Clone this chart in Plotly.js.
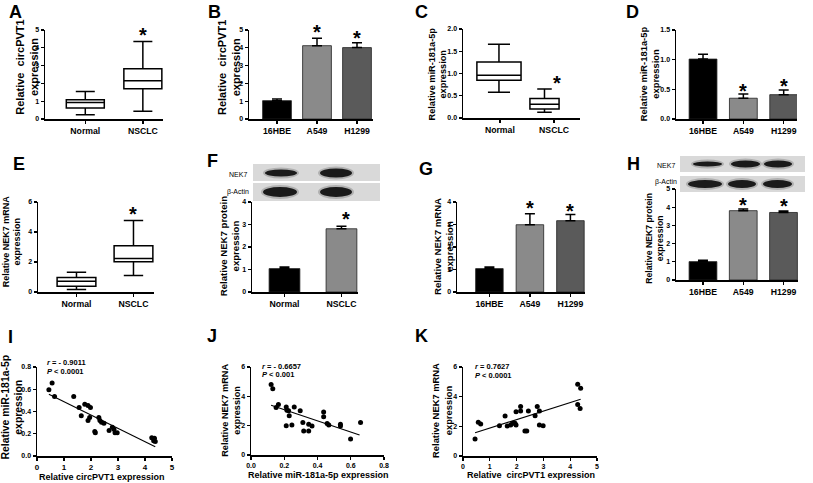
<!DOCTYPE html>
<html><head><meta charset="utf-8">
<script src="https://cdn.plot.ly/plotly-3.0.1.min.js"></script>
<style>html,body{margin:0;padding:0;background:#fff}</style>
</head><body><div id="chart" style="width:813px;height:483px"></div>
<script>
// ---------------- DATA ----------------
const tissueCats = ['Normal', 'NSCLC'];
const cellLines = ['16HBE', 'A549', 'H1299'];

// A: circPVT1 in tissues (box stats)
const aQ1 = [0.62, 1.70], aMed = [0.93, 2.15], aQ3 = [1.08, 2.82], aLo = [0.24, 0.43], aHi = [1.55, 4.35];
// B: circPVT1 in cell lines
const bMean = [1.03, 4.12, 4.01], bErr = [0.09, 0.41, 0.28];
// C: miR-181a-5p in tissues
const cQ1 = [0.85, 0.20], cMed = [0.96, 0.31], cQ3 = [1.26, 0.44], cLo = [0.58, 0.13], cHi = [1.66, 0.65];
// D: miR-181a-5p in cell lines
const dMean = [1.01, 0.35, 0.41], dErr = [0.08, 0.07, 0.08];
// E: NEK7 mRNA in tissues
const eQ1 = [0.38, 2.01], eMed = [0.72, 2.24], eQ3 = [0.96, 3.09], eLo = [0.16, 1.10], eHi = [1.32, 4.77];
// F: NEK7 protein in tissues
const fMean = [1.04, 2.81], fErr = [0.07, 0.11];
// G: NEK7 mRNA in cell lines
const gMean = [1.04, 2.99, 3.17], gErr = [0.07, 0.49, 0.27];
// H: NEK7 protein in cell lines
const hMean = [1.01, 3.81, 3.71], hErr = [0.07, 0.09, 0.08];

// I: circPVT1 vs miR-181a-5p
const iX = [0.44,0.56,0.65,1.36,1.56,1.64,1.77,1.89,1.98,1.89,1.95,2.14,2.16,2.29,2.33,2.39,2.48,2.67,2.79,2.85,2.89,2.97,4.25,4.32,4.35,4.38];
const iY = [0.595,0.656,0.535,0.535,0.436,0.361,0.466,0.454,0.436,0.319,0.346,0.22,0.21,0.346,0.319,0.304,0.295,0.229,0.259,0.24,0.21,0.21,0.165,0.138,0.159,0.13];
const iFitX = [0.44, 4.38], iFitY = [0.556, 0.084];
const iStats = ['<i>r</i> = - 0.9011', '<i>P</i> &lt; 0.0001'];
// J: miR-181a-5p vs NEK7 mRNA
const jX = [0.121,0.131,0.151,0.165,0.212,0.216,0.226,0.23,0.212,0.246,0.26,0.296,0.312,0.317,0.347,0.347,0.367,0.437,0.437,0.458,0.468,0.538,0.538,0.599,0.659];
const jY = [4.80,4.52,3.24,3.44,3.28,3.05,3.01,2.67,1.99,2.04,3.28,3.01,2.22,1.63,2.10,1.63,1.97,2.94,2.60,2.15,2.04,2.10,1.97,1.09,2.22];
const jFitX = [0.121, 0.653], jFitY = [3.39, 1.36];
const jStats = ['<i>r</i> = - 0.6657', '<i>P</i> &lt; 0.001'];
// K: circPVT1 vs NEK7 mRNA
const kX = [0.45,0.57,0.66,1.36,1.57,1.65,1.78,1.85,1.94,1.98,1.98,2.15,2.15,2.31,2.38,2.44,2.69,2.77,2.85,2.85,2.99,4.28,4.39,4.28,4.37];
const kY = [1.15,2.27,2.16,2.04,2.70,2.02,2.09,2.20,2.20,2.09,2.99,3.03,3.33,1.69,1.69,3.03,2.72,3.33,3.03,2.09,2.04,4.83,4.56,3.48,3.21];
const kFitX = [0.45, 4.39], kFitY = [1.57, 3.82];
const kStats = ['<i>r</i> = 0.7627', '<i>P</i> &lt; 0.0001'];

const barColors3 = ['#000000', '#8a8a8a', '#5a5a5a'];
const barColors2 = ['#000000', '#8a8a8a'];

// ---------------- LAYOUT HELPERS ----------------
const W = 813, H = 483;
const px = x => x / W, py = y => 1 - y / H;
const FONT = 'Liberation Sans, Arial, sans-serif';
const data = [];
const layout = {
  width: W, height: H, margin: {l: 0, r: 0, t: 0, b: 0},
  paper_bgcolor: '#fff', plot_bgcolor: '#fff', showlegend: false,
  font: {family: FONT, color: '#000'}, annotations: [], shapes: []
};

function axName(i, a) { return a + 'axis' + (i === 1 ? '' : i); }
function ref(i, a) { return a + (i === 1 ? '' : i); }

function addAxes(i, xd, yd, xr, yr, ydt, yfmt, xopts) {
  const common = {showline: true, linecolor: '#000', linewidth: 1.5, ticks: 'outside', ticklen: 3,
    tickwidth: 1.3, tickcolor: '#000', showgrid: false, zeroline: false, fixedrange: true};
  layout[axName(i, 'x')] = Object.assign({}, common, {
    domain: [px(xd[0]), px(xd[1])], range: xr, anchor: ref(i, 'y'),
    tickfont: {family: FONT, size: 8.7, weight: 'bold', color: '#000'}
  }, xopts);
  layout[axName(i, 'y')] = Object.assign({}, common, {
    domain: [py(yd[1]), py(yd[0])], range: yr, anchor: ref(i, 'x'), dtick: ydt, tick0: 0,
    tickformat: yfmt, tickfont: {family: FONT, size: 7, weight: 'bold', color: '#000'}
  });
}

function addBoxes(i, q1, med, q3, lo, hi, widths) {
  for (let k = 0; k < q1.length; k++) {
    data.push({type: 'box', xaxis: ref(i, 'x'), yaxis: ref(i, 'y'), x: [k],
      q1: [q1[k]], median: [med[k]], q3: [q3[k]], lowerfence: [lo[k]], upperfence: [hi[k]],
      width: widths[k], whiskerwidth: 0.5, fillcolor: '#fff', line: {color: '#000', width: 1.5},
      boxpoints: false, hoverinfo: 'skip'});
  }
}

function addBars(i, mean, err, colors, w) {
  data.push({type: 'bar', xaxis: ref(i, 'x'), yaxis: ref(i, 'y'), x: mean.map((_, k) => k), y: mean,
    width: w, marker: {color: colors, line: {color: '#222', width: 0.8}},
    error_y: {type: 'data', symmetric: false, array: err, arrayminus: err.map(() => 0),
      color: '#000', thickness: 1.5, width: 5},
    hoverinfo: 'skip'});
}

function addScatter(i, x, y, fx, fy) {
  data.push({type: 'scatter', mode: 'markers', xaxis: ref(i, 'x'), yaxis: ref(i, 'y'), x: x, y: y,
    marker: {size: 5, color: '#000'}, hoverinfo: 'skip', cliponaxis: false});
  data.push({type: 'scatter', mode: 'lines', xaxis: ref(i, 'x'), yaxis: ref(i, 'y'), x: fx, y: fy,
    line: {color: '#000', width: 1.1}, hoverinfo: 'skip'});
}

function star(i, x, y, shift) {
  layout.annotations.push({xref: ref(i, 'x'), yref: ref(i, 'y'), x: x, y: y, text: '*', showarrow: false,
    xanchor: 'center', yanchor: 'middle', yshift: shift,
    font: {family: FONT, size: 20, weight: 'bold', color: '#000'}});
}

function ptext(text, x, y, size, opts) {
  layout.annotations.push(Object.assign({xref: 'paper', yref: 'paper', x: px(x), y: py(y), text: text,
    showarrow: false, xanchor: 'center', yanchor: 'middle',
    font: {family: FONT, size: size, weight: 'bold', color: '#000'}}, opts || {}));
}

function ytitle(l1, l2, x1, x2, yc, size) {
  ptext(l1 + '<br>' + l2, (x1 + x2) / 2, yc, size, {textangle: -90, align: 'center'});
}

function rect(x0, x1, y0, y1, fill) {
  layout.shapes.push({type: 'rect', xref: 'paper', yref: 'paper', x0: px(x0), x1: px(x1), y0: py(y1), y1: py(y0),
    fillcolor: fill, line: {width: 0}, layer: 'above'});
}
function band(x0, x1, yc, h) {
  layout.shapes.push({type: 'circle', xref: 'paper', yref: 'paper', x0: px(x0 - 2), x1: px(x1 + 2),
    y0: py(yc + h / 2 + 2), y1: py(yc - h / 2 - 2), fillcolor: '#666', opacity: 0.35, line: {width: 0}, layer: 'above'});
  layout.shapes.push({type: 'circle', xref: 'paper', yref: 'paper', x0: px(x0), x1: px(x1),
    y0: py(yc + h / 2), y1: py(yc - h / 2), fillcolor: '#1a1a1a', line: {width: 0}, layer: 'above'});
}

const tissueTicks = {tickvals: [0, 1], ticktext: tissueCats};
const cellTicks = {tickvals: [0, 1, 2], ticktext: cellLines};

// A
addAxes(1, [45, 163], [30, 119], [-0.70, 1.35], [0, 5], 1, '', tissueTicks);
addBoxes(1, aQ1, aMed, aQ3, aLo, aHi, [0.66, 0.66]);
star(1, 1, aHi[1], 7);
// B
addAxes(2, [249, 373], [30, 119], [-0.7, 2.4], [0, 5], 1, '', cellTicks);
addBars(2, bMean, bErr, barColors3, 0.72);
star(2, 1, bMean[1] + bErr[1], 6); star(2, 2, bMean[2] + bErr[2], 5);
// C
addAxes(3, [463, 580], [29, 118], [-0.79, 1.78], [0, 2], 0.5, '.1f', {tickvals: [0.02, 1.21], ticktext: tissueCats});
addBoxes(3, cQ1, cMed, cQ3, cLo, cHi, [0.97, 0.64]);
star(3, 1.27, cHi[1], 6.5);
// D
addAxes(4, [676, 797], [30, 119], [-0.67, 2.33], [0, 1.5], 0.5, '.1f', cellTicks);
addBars(4, dMean, dErr, barColors3, 0.69);
star(4, 1, dMean[1] + dErr[1], 3.5); star(4, 2, dMean[2] + dErr[2], 4);
// E
addAxes(5, [38, 154], [202, 292], [-0.675, 1.36], [0, 6], 2, '', tissueTicks);
addBoxes(5, eQ1, eMed, eQ3, eLo, eHi, [0.68, 0.68]);
star(5, 1, eHi[1], 6);
// F
addAxes(6, [252, 358], [202, 292], [-0.57, 1.29], [0, 4], 1, '', tissueTicks);
addBars(6, fMean, fErr, barColors2, 0.54);
star(6, 1.08, fMean[1] + fErr[1], 7);
// G
addAxes(7, [457, 585], [202, 292], [-0.80, 2.36], [0, 4], 1, '', cellTicks);
addBars(7, gMean, gErr, barColors3, 0.68);
star(7, 1, gMean[1] + gErr[1], 6); star(7, 2, gMean[2] + gErr[2], 4);
// H
addAxes(8, [676, 798], [189, 280], [-0.67, 2.36], [0, 5], 1, '', cellTicks);
addBars(8, hMean, hErr, barColors3, 0.69);
star(8, 1, hMean[1] + hErr[1], 4.5); star(8, 2, hMean[2] + hErr[2], 5);
// I
const numTick = {tickfont: {family: FONT, size: 7, weight: 'bold', color: '#000'}};
addAxes(9, [37, 172], [367, 456], [0, 5], [0, 0.8], 0.2, '.1f', {dtick: 1, tick0: 0, tickfont: {family: FONT, size: 8, weight: 'bold', color: '#000'}});
addScatter(9, iX, iY, iFitX, iFitY);
// J
addAxes(10, [251, 384], [367, 455], [0, 0.8], [0, 6], 2, '', Object.assign({dtick: 0.2, tick0: 0, tickformat: '.1f'}, numTick));
addScatter(10, jX, jY, jFitX, jFitY);
// K
addAxes(11, [463, 597], [367, 456], [0, 5], [0, 6], 2, '', Object.assign({dtick: 1, tick0: 0}, numTick));
addScatter(11, kX, kY, kFitX, kFitY);

// y titles
const sp = '\u00a0';
ytitle('Relative' + sp + sp + 'circPVT1', 'expression', 20.7, 32.7, 67, 11);
ytitle('Relative' + sp + sp + 'circPVT1', 'expression', 222.7, 234.3, 67.5, 11);
ytitle('Relative miR-181a-5p', 'expression', 431.7, 443.3, 74, 9.2);
ytitle('Relative miR-181a-5p', 'expression', 643.3, 655, 74, 9.4);
ytitle('Relative NEK7 mRNA', 'expression', 5.7, 17.3, 241.7, 9);
ytitle('Relative NEK7 protein', 'expression', 223.3, 235.7, 246.7, 9.6);
ytitle('Relative NEK7 mRNA', 'expression', 437.3, 449.3, 246.7, 9.6);
ytitle('Relative NEK7 protein', 'expression', 648.3, 660.7, 238.3, 8.7);
ytitle('Relative miR-181a-5p', 'expression', 5.7, 18.3, 407.5, 10.4);
ytitle('Relative NEK7 mRNA', 'expression', 225, 236.7, 410, 9.2);
ytitle('Relative NEK7 mRNA', 'expression', 436, 448.3, 410.8, 9.4);

// x titles for scatter panels
ptext('Relative circPVT1 expression', 101.7, 476.7, 9);
ptext('Relative miR-181a-5p expression', 318, 475, 9);
ptext('Relative' + sp + sp + 'circPVT1 expression', 531, 475, 9);

// r / P statistics
ptext(iStats[0], 45, 362.7, 7.5, {xanchor: 'left'});
ptext(iStats[1], 45, 371, 7.5, {xanchor: 'left'});
ptext(jStats[0], 260, 366.7, 7.5, {xanchor: 'left'});
ptext(jStats[1], 260, 374.3, 7.5, {xanchor: 'left'});
ptext(kStats[0], 473.3, 366.7, 7.5, {xanchor: 'left'});
ptext(kStats[1], 473.3, 375, 7.5, {xanchor: 'left'});

// panel letters
const letters = [['A', 15, 12], ['B', 214, 12], ['C', 421, 12], ['D', 632, 12], ['E', 19, 164], ['F', 212, 161],
  ['G', 426, 169], ['H', 633, 164], ['I', 10, 337], ['J', 212, 336], ['K', 421, 336]];
letters.forEach(l => ptext(l[0], l[1], l[2], 18));

// western blot insets (F)
rect(253, 380, 164, 181, '#d9d9d9');
rect(253, 380, 183, 201, '#d9d9d9');
band(265, 297, 173, 7); band(320, 352, 173, 9);
band(263, 297, 192, 10); band(320, 352, 192, 10);
ptext('NEK7', 238, 174, 7, {font: {family: FONT, size: 7, color: '#000'}});
ptext('β-Actin', 238, 192, 7, {font: {family: FONT, size: 7, color: '#000'}});
// western blot insets (H)
rect(680, 805, 156, 172, '#d9d9d9');
rect(680, 805, 176, 192, '#d9d9d9');
band(693, 722, 164, 5); band(731, 760, 164, 7); band(764, 792, 164, 7);
band(688, 722, 184, 8); band(728, 756, 184, 8); band(763, 792, 184, 8);
ptext('NEK7', 666, 165, 7, {font: {family: FONT, size: 7, color: '#000'}});
ptext('β-Actin', 666, 182, 7, {font: {family: FONT, size: 7, color: '#000'}});

Plotly.newPlot('chart', data, layout, {staticPlot: true, displayModeBar: false});
</script></body></html>
